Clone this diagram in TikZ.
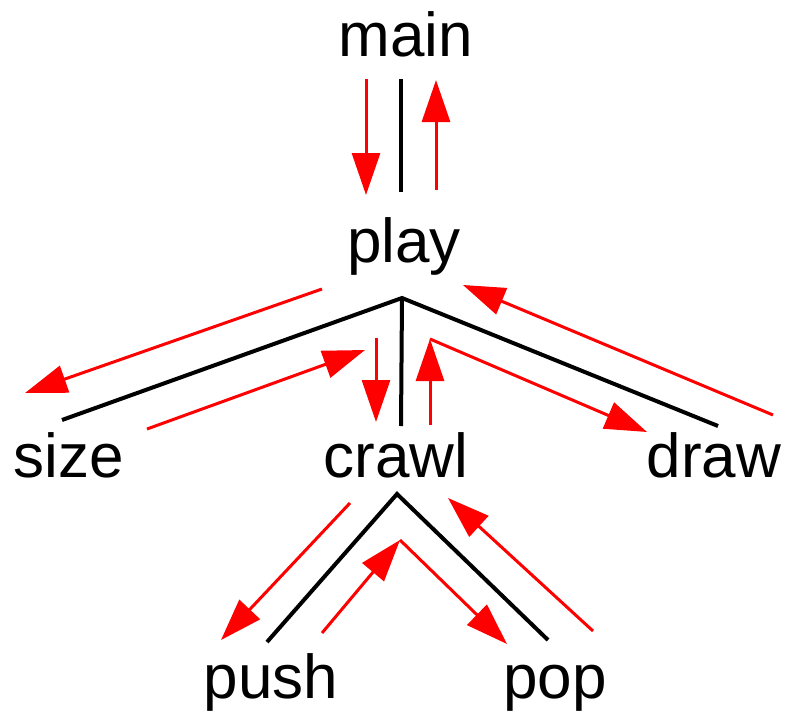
\documentclass[tikz,border=0pt]{standalone}
\usepackage{fontspec}
\setmainfont{Liberation Sans}
\usetikzlibrary{arrows.meta}
\begin{document}
\begin{tikzpicture}[x=1pt,y=-1pt,
  lbl/.style={inner sep=0pt,anchor=base,font=\fontsize{62}{70}\selectfont},
  tree/.style={line width=4pt,black},
  call/.style={line width=3pt,red,-{Triangle[length=42pt,width=28pt]}},
  ret/.style={line width=3pt,red}]
\useasboundingbox (0,0) rectangle (795,712);
% labels
\node[lbl] (main) at (406,56) {main};
\node[lbl] (play) at (404,262) {play};
\node[lbl] (size) at (69,477) {size};
\node[lbl] (crawl) at (396,477) {crawl};
\node[lbl] (draw) at (714,477) {draw};
\node[lbl] (push) at (271,698) {push};
\node[lbl] (pop) at (555,698) {pop};
% tree coordinates
\coordinate (mT) at (401,79);
\coordinate (pB) at (401,192);
\coordinate (pA) at (402,298);
\coordinate (sE) at (62,420);
\coordinate (cE) at (401,426);
\coordinate (dE) at (718,426);
\coordinate (cA) at (397,494);
\coordinate (puE) at (267,642);
\coordinate (poE) at (548,640);
\draw[tree] (mT) -- (pB);
\draw[tree] (sE) -- (pA) -- (dE);
\draw[tree] (pA) -- (cE);
\draw[tree] (puE) -- (cA) -- (poE);
% red arrows coordinates
\coordinate (a1s) at (366,79);  \coordinate (a1e) at (366,195);
\coordinate (a2s) at (436,190); \coordinate (a2e) at (436,80);
\coordinate (a3s) at (322,289); \coordinate (a3e) at (25,393);
\coordinate (a4s) at (147,429); \coordinate (a4e) at (365,350);
\coordinate (a5s) at (376,338); \coordinate (a5e) at (376,422);
\coordinate (a6s) at (430,425); \coordinate (a6e) at (430,339);
\coordinate (a7e) at (647,432);
\coordinate (a8s) at (773,415); \coordinate (a8e) at (463,285);
\coordinate (b1s) at (350,503); \coordinate (b1e) at (221,640);
\coordinate (b2s) at (322,633); \coordinate (b2e) at (400,540);
\coordinate (b3e) at (507,644);
\coordinate (b4s) at (593,631); \coordinate (b4e) at (448,498);
\draw[call] (a1s) -- (a1e);
\draw[call] (a2s) -- (a2e);
\draw[call] (a3s) -- (a3e);
\draw[call] (a4s) -- (a4e);
\draw[call] (a5s) -- (a5e);
\draw[call] (a6s) -- (a6e);
\draw[call] (a6e) -- (a7e);
\draw[call] (a8s) -- (a8e);
\draw[call] (b1s) -- (b1e);
\draw[call] (b2s) -- (b2e);
\draw[call] (b2e) -- (b3e);
\draw[call] (b4s) -- (b4e);
\end{tikzpicture}
\end{document}
